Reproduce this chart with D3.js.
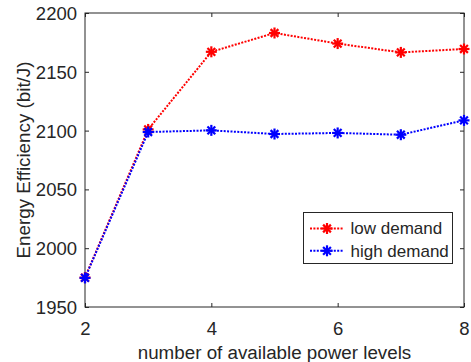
<!DOCTYPE html>
<html>
<head>
<meta charset="utf-8">
<script src="https://cdn.jsdelivr.net/npm/d3@7/dist/d3.min.js"></script>
<style>
  html, body { margin: 0; padding: 0; background: #fff; }
  svg { display: block; }
  text { font-family: "Liberation Sans", Arial, Helvetica, sans-serif; fill: #262626; }
</style>
</head>
<body>
<svg id="chart" width="471" height="362"></svg>
<script>
const xValues = [2, 3, 4, 5, 6, 7, 8];
const lowDemand = [1975, 2101, 2167, 2183, 2174, 2166.5, 2169.4];
const highDemand = [1974.7, 2098.8, 2100.2, 2097.1, 2098, 2096.5, 2108.7];
const xTicks = [2, 4, 6, 8];
const yTicks = [1950, 2000, 2050, 2100, 2150, 2200];
const seriesNames = ["low demand", "high demand"];
const seriesColors = ["#ff0000", "#0000ff"];

const svg = d3.select("#chart");
const pL = 85, pR = 464, pT = 13, pB = 307;
const x = d3.scaleLinear().domain([2, 8]).range([pL, pR]);
const y = d3.scaleLinear().domain([1950, 2200]).range([pB, pT]);
const axisColor = "#262626";
const tickLen = 4;

const gx = svg.append("g").attr("transform", `translate(0,${pB})`)
  .call(d3.axisBottom(x).tickValues(xTicks).tickSizeInner(-tickLen).tickSizeOuter(0).tickFormat(d3.format("d")));
const gxt = svg.append("g").attr("transform", `translate(0,${pT})`)
  .call(d3.axisTop(x).tickValues(xTicks).tickSizeInner(-tickLen).tickSizeOuter(0).tickFormat(""));
const gy = svg.append("g").attr("transform", `translate(${pL},0)`)
  .call(d3.axisLeft(y).tickValues(yTicks).tickSizeInner(-tickLen).tickSizeOuter(0).tickFormat(d3.format("d")));
const gyr = svg.append("g").attr("transform", `translate(${pR},0)`)
  .call(d3.axisRight(y).tickValues(yTicks).tickSizeInner(-tickLen).tickSizeOuter(0).tickFormat(""));

[gx, gxt, gy, gyr].forEach(g => {
  g.select(".domain").remove();
  g.selectAll(".tick line").attr("stroke", axisColor).attr("stroke-width", 1);
  g.selectAll("text").attr("fill", axisColor).style("font-size", "18.5px")
   .style("font-family", '"Liberation Sans", Arial, sans-serif');
});
gx.selectAll("text").attr("dy", null).attr("y", 28);
gy.selectAll("text").attr("x", -8).attr("dy", "0.35em");

svg.append("rect").attr("x", pL).attr("y", pT)
  .attr("width", pR - pL).attr("height", pB - pT)
  .attr("fill", "none").attr("stroke", axisColor).attr("stroke-width", 1);

svg.append("text").attr("x", (pL + pR) / 2).attr("y", 359)
  .attr("text-anchor", "middle").style("font-size", "18.8px")
  .text("number of available power levels");
svg.append("text").attr("transform", `translate(30,${(pT + pB) / 2}) rotate(-90)`)
  .attr("text-anchor", "middle").style("font-size", "18.8px")
  .text("Energy Efficiency (bit/J)");

const line = d3.line().x((d, i) => x(xValues[i])).y(d => y(d));
const series = [lowDemand, highDemand];

function drawAsterisk(g, cx, cy, r, color) {
  const d = r * Math.SQRT1_2;
  const segs = [[-r, 0, r, 0], [0, -r, 0, r], [-d, -d, d, d], [-d, d, d, -d]];
  segs.forEach(s => g.append("line")
    .attr("x1", cx + s[0]).attr("y1", cy + s[1]).attr("x2", cx + s[2]).attr("y2", cy + s[3])
    .attr("stroke", color).attr("stroke-width", 2.2));
}

series.forEach((vals, si) => {
  const g = svg.append("g");
  g.append("path").datum(vals).attr("d", line)
    .attr("fill", "none").attr("stroke", seriesColors[si])
    .attr("stroke-width", 2).attr("stroke-dasharray", "2,1.4");
  vals.forEach((v, i) => drawAsterisk(g, x(xValues[i]), y(v), 5.5, seriesColors[si]));
});

const lg = svg.append("g");
lg.append("rect").attr("x", 303.5).attr("y", 212.5).attr("width", 149).attr("height", 51)
  .attr("fill", "#fff").attr("stroke", axisColor).attr("stroke-width", 1);
seriesNames.forEach((name, i) => {
  const cy = 228.5 + i * 22.3;
  lg.append("line").attr("x1", 310).attr("x2", 344).attr("y1", cy).attr("y2", cy)
    .attr("stroke", seriesColors[i]).attr("stroke-width", 2).attr("stroke-dasharray", "2,1.4");
  drawAsterisk(lg, 327, cy, 5.5, seriesColors[i]);
  lg.append("text").attr("x", 350.5).attr("y", cy).attr("dy", "0.35em")
    .style("font-size", "17px").attr("fill", "#000").text(name);
});
</script>
</body>
</html>
